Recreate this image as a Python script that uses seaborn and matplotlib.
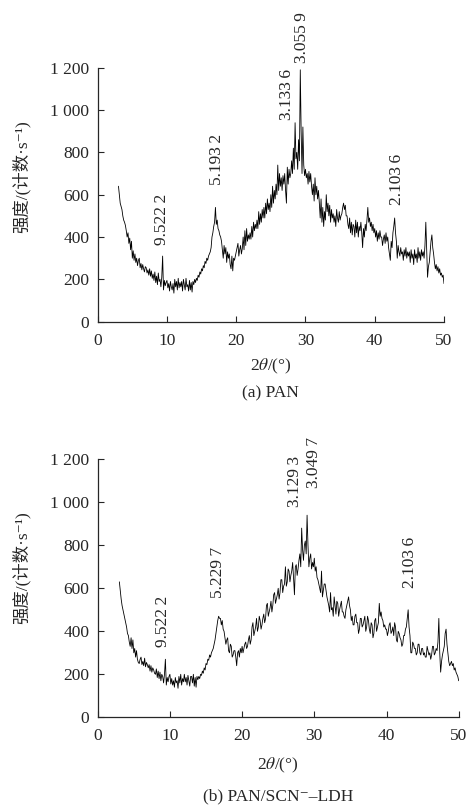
import numpy as np
import matplotlib
matplotlib.use("Agg")
import matplotlib.pyplot as plt
import seaborn as sns

# 2theta grid of the scans (0.125 deg steps, 3-50 deg)
two_theta = np.arange(3.0, 50.0001, 0.125)

# (a) PAN intensities, one row per degree
pan = [
    640, 600, 560, 545, 530, 500, 480, 470,    # 3
    455, 430, 400, 420, 370, 395, 340, 380,    # 4
    300, 335, 290, 320, 280, 300, 265, 290,    # 5
    300, 255, 275, 245, 270, 250, 235, 260,    # 6
    255, 230, 245, 220, 250, 215, 240, 205,    # 7
    225, 195, 235, 185, 215, 175, 230, 190,    # 8
    200, 165, 210, 310, 150, 195, 170, 185,    # 9
    195, 160, 180, 145, 190, 165, 150, 180,    # 10
    135, 200, 165, 190, 150, 205, 160, 185,    # 11
    165, 190, 145, 200, 175, 150, 205, 165,    # 12
    175, 145, 195, 150, 185, 140, 190, 175,    # 13
    200, 185, 205, 195, 220, 210, 235, 225,    # 14
    250, 240, 265, 255, 285, 275, 300, 290,    # 15
    310, 320, 330, 350, 400, 420, 450, 470,    # 16
    540, 460, 480, 440, 430, 410, 400, 380,    # 17
    340, 300, 360, 320, 350, 280, 330, 300,    # 18
    320, 270, 250, 310, 240, 300, 290, 310,    # 19
    330, 350, 370, 310, 340, 360, 320, 345,    # 20
    400, 340, 430, 360, 440, 380, 410, 390,    # 21
    420, 390, 450, 400, 470, 430, 460, 440,    # 22
    480, 440, 520, 460, 510, 470, 530, 490,    # 23
    540, 490, 560, 510, 580, 530, 560, 520,    # 24
    600, 540, 640, 560, 620, 580, 650, 600,    # 25
    740, 620, 700, 640, 680, 620, 690, 650,    # 26
    700, 620, 560, 730, 650, 720, 680, 700,    # 27
    760, 700, 820, 720, 940, 770, 800, 720,    # 28
    860, 760, 1190, 900, 700, 920, 740, 690,   # 29
    720, 680, 700, 650, 710, 660, 700, 640,    # 30
    600, 650, 570, 680, 600, 640, 580, 620,    # 31
    560, 490, 580, 470, 540, 450, 520, 480,    # 32
    600, 520, 560, 500, 550, 470, 530, 490,    # 33
    510, 470, 500, 450, 530, 490, 470, 520,    # 34
    480, 500, 510, 540, 560, 530, 550, 500,    # 35
    500, 460, 440, 490, 420, 470, 410, 460,    # 36
    450, 400, 480, 420, 470, 400, 450, 430,    # 37
    470, 420, 350, 440, 400, 460, 430, 480,    # 38
    540, 470, 490, 450, 470, 430, 460, 420,    # 39
    440, 400, 430, 380, 420, 390, 430, 400,    # 40
    400, 360, 390, 410, 370, 420, 380, 400,    # 41
    350, 320, 290, 380, 350, 420, 450, 490,    # 42
    420, 380, 300, 360, 330, 310, 350, 320,    # 43
    330, 290, 340, 310, 350, 300, 330, 310,    # 44
    330, 280, 340, 300, 320, 270, 340, 300,    # 45
    320, 280, 350, 300, 330, 290, 340, 310,    # 46
    330, 300, 360, 470, 340, 210, 260, 280,    # 47
    330, 380, 410, 350, 320, 280, 250, 270,    # 48
    240, 260, 230, 250, 220, 230, 210, 220,    # 49
    180,                                       # 50
]

# (b) PAN/SCN--LDH intensities
pan_ldh = [
    630, 590, 550, 520, 500, 480, 460, 440,    # 3
    420, 390, 380, 350, 330, 370, 320, 360,    # 4
    300, 320, 280, 310, 270, 255, 250, 270,    # 5
    280, 245, 260, 240, 275, 235, 255, 245,    # 6
    230, 245, 215, 240, 210, 230, 220, 205,    # 7
    200, 225, 185, 215, 180, 210, 170, 200,    # 8
    190, 160, 200, 270, 150, 185, 165, 190,    # 9
    200, 155, 180, 150, 170, 140, 185, 160,    # 10
    170, 135, 190, 160, 200, 150, 180, 165,    # 11
    200, 165, 185, 150, 195, 170, 145, 190,    # 12
    190, 160, 200, 145, 185, 140, 190, 175,    # 13
    190, 180, 200, 195, 215, 205, 230, 220,    # 14
    250, 245, 270, 265, 290, 280, 300, 310,    # 15
    320, 340, 360, 390, 420, 450, 470, 460,    # 16
    460, 430, 450, 410, 400, 370, 340, 360,    # 17
    370, 310, 300, 340, 330, 280, 290, 310,    # 18
    310, 280, 240, 300, 310, 280, 320, 300,    # 19
    330, 300, 320, 340, 350, 320, 330, 360,    # 20
    380, 340, 360, 420, 440, 380, 400, 420,    # 21
    460, 400, 420, 470, 450, 410, 430, 460,    # 22
    480, 440, 460, 520, 530, 470, 490, 510,    # 23
    540, 490, 520, 570, 580, 530, 550, 570,    # 24
    600, 550, 580, 640, 640, 580, 610, 620,    # 25
    700, 610, 630, 690, 680, 630, 660, 680,    # 26
    720, 650, 570, 700, 710, 660, 690, 730,    # 27
    760, 700, 880, 780, 730, 800, 820, 760,    # 28
    940, 800, 700, 740, 760, 690, 720, 700,    # 29
    740, 680, 700, 650, 640, 620, 600, 580,    # 30
    680, 560, 590, 620, 620, 590, 560, 540,    # 31
    520, 490, 580, 500, 510, 470, 560, 520,    # 32
    480, 540, 530, 470, 500, 520, 540, 490,    # 33
    490, 470, 460, 500, 520, 540, 560, 520,    # 34
    500, 450, 470, 430, 430, 470, 480, 440,    # 35
    440, 390, 410, 460, 460, 420, 430, 450,    # 36
    470, 400, 420, 470, 450, 410, 390, 440,    # 37
    430, 370, 390, 450, 460, 400, 420, 440,    # 38
    530, 470, 490, 460, 450, 420, 430, 410,    # 39
    410, 380, 400, 430, 440, 390, 400, 420,    # 40
    380, 440, 420, 360, 350, 400, 390, 370,    # 41
    360, 330, 340, 380, 380, 410, 420, 460,    # 42
    500, 420, 380, 300, 300, 350, 340, 320,    # 43
    320, 290, 300, 340, 340, 300, 290, 320,    # 44
    320, 290, 300, 280, 280, 330, 310, 290,    # 45
    300, 270, 290, 330, 330, 290, 300, 320,    # 46
    310, 350, 460, 300, 210, 260, 290, 310,    # 47
    330, 390, 410, 340, 300, 260, 240, 250,    # 48
    260, 240, 250, 220, 230, 210, 200, 190,    # 49
    170,                                       # 50
]

# peak d-spacing labels (text, 2theta, intensity at label foot)
pan_peaks = ["9.522\u20092", "5.193\u20092", "3.133\u20096", "3.055\u20099", "2.103\u20096"]
pan_peak_x = [9.24, 17.2, 27.3, 29.45, 43.2]
pan_peak_y = [362, 646, 953, 1222, 551]

ldh_peaks = ["9.522\u20092", "5.229\u20097", "3.129\u20093", "3.049\u20097", "2.103\u20096"]
ldh_peak_x = [9.09, 16.7, 27.3, 29.9, 43.3]
ldh_peak_y = [328, 553, 980, 1065, 600]

x_ticks = [0, 10, 20, 30, 40, 50]
y_ticks = [0, 200, 400, 600, 800, 1000, 1200]
y_ticklabels = ["0", "200", "400", "600", "800", "1 000", "1 200"]

sns.set_style("ticks")
serif = ["Liberation Serif", "DejaVu Serif"]
plt.rcParams["font.family"] = serif
plt.rcParams["mathtext.fontset"] = "stix"
cjk = ["Liberation Serif", "Noto Sans CJK SC", "DejaVu Serif"]
fs = 12.5

W, H = 469, 809
fig = plt.figure(figsize=(W / 100, H / 100), dpi=100)


def px_box(left, top, right, bottom):
    return [left / W, 1 - bottom / H, (right - left) / W, (bottom - top) / H]


panels = [
    (px_box(97.7, 67.7, 444, 321.7), pan, pan_peaks, pan_peak_x, pan_peak_y,
     "(a) PAN", 177, 366, 393),
    (px_box(97.7, 459.3, 458.7, 717.3), pan_ldh, ldh_peaks, ldh_peak_x, ldh_peak_y,
     "(b) PAN/SCN\u207b\u2013LDH", 568, 765, 796),
]

for box, ys, labels, lx, ly, caption, ylab_y, xlab_y, cap_y in panels:
    ax = fig.add_axes(box)
    sns.lineplot(x=two_theta, y=ys, ax=ax, color="black", linewidth=0.6)
    ax.set_xlim(0, 50)
    ax.set_ylim(0, 1200)
    ax.set_xticks(x_ticks)
    ax.set_yticks(y_ticks)
    ax.set_yticklabels(y_ticklabels)
    ax.tick_params(direction="in", length=4, width=0.8, labelsize=fs, pad=8)
    ax.tick_params(axis="y", pad=6)
    sns.despine(ax=ax)
    for sp in ax.spines.values():
        sp.set_linewidth(0.9)
    for s, x, y in zip(labels, lx, ly):
        ax.text(x, y, s, rotation=90, ha="center", va="bottom", fontsize=fs)

    cx = box[0] + box[2] / 2
    fig.text(21 / W, 1 - ylab_y / H, "强度/(计数·s\u207b\u00b9)", rotation=90,
             ha="center", va="center", fontsize=fs, family=cjk)
    fig.text(cx, 1 - xlab_y / H, "2$\\theta$/(°)", ha="center", va="center", fontsize=fs)
    fig.text(cx, 1 - cap_y / H, caption, ha="center", va="center", fontsize=fs)

fig.savefig("out.png", dpi=100)
